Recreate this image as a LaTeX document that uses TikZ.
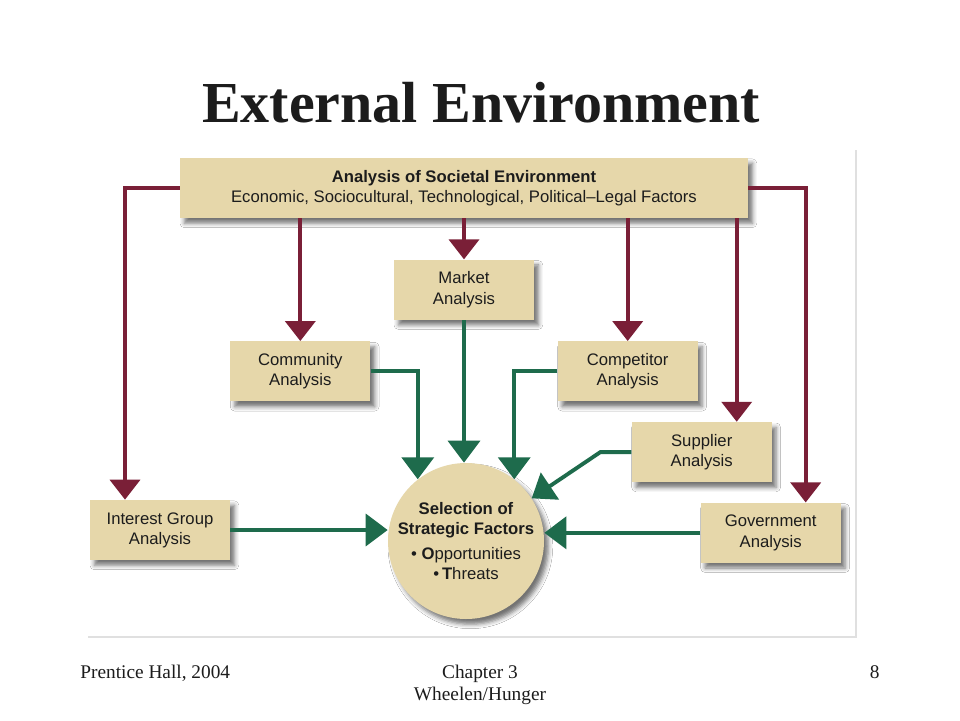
\documentclass[tikz,border=0pt]{standalone}
\usepackage{fontspec}
\setmainfont{Liberation Serif}
\setsansfont{Liberation Sans}
\usepackage{tikz}
\usetikzlibrary{positioning, arrows.meta, shadows.blur}
\definecolor{ink}{HTML}{1C1C1C}
\definecolor{boxtan}{HTML}{E6D7AA}
\definecolor{envred}{HTML}{7A1F37}
\definecolor{selgreen}{HTML}{1E6B4C}
\definecolor{framegray}{HTML}{E0E0E0}
\tikzset{
  bx/.style={fill=boxtan, text=ink, font=\sffamily\fontsize{9.5}{11.5}\selectfont,
    align=center, minimum width=28mm, minimum height=12mm, inner sep=2pt,
    blur shadow={shadow xshift=2.5pt, shadow yshift=-3pt, shadow blur radius=2.5pt, shadow opacity=55}},
  bxw/.style={bx, minimum width=113.6mm},
  hub/.style={bx, circle, minimum size=31.2mm, inner sep=-3pt},
  env/.style={-{Triangle[width=6mm, length=4mm]}, line width=2.2pt, color=envred},
  sel/.style={-{Triangle[width=6.4mm, length=4.4mm]}, line width=2.2pt, color=selgreen},
  ttl/.style={font=\fontsize{33}{38}\selectfont\bfseries, text=ink},
  foot/.style={font=\fontsize{11}{12.5}\selectfont, text=ink, align=center, inner sep=0pt},
}
\begin{document}
\begin{tikzpicture}[node distance=4.2mm and 4.6mm]
  \fill[white] (0,0) rectangle (19.2,-14.4);
  \useasboundingbox (0,0) rectangle (19.2,-14.4);
  \node[ttl, anchor=base] (title) at (9.62,-2.44) {External Environment};
  % figure frame
  \draw[framegray, line width=0.6pt] (1.76,-12.74) -- (17.12,-12.74) -- (17.12,-3.0);
  % societal environment on top
  \node[bxw] (soc) at (9.28,-3.76)
    {\textbf{Analysis of Societal Environment}\\Economic, Sociocultural, Technological, Political--Legal Factors};
  \node[bx, below=8.2mm of soc] (market) {Market\\Analysis};
  \node[bx, below left=of market] (community) {Community\\Analysis};
  \node[bx, below right=of market] (competitor) {Competitor\\Analysis};
  \node[bx, below=4mm of competitor, xshift=14.8mm] (supplier) {Supplier\\Analysis};
  \node[bx, below=4mm of supplier, xshift=13.8mm] (government) {Government\\Analysis};
  \node[bx] (interest) at (3.2,-10.6) {Interest Group\\Analysis};
  % strategic factors
  \node[hub] (sf) at (9.32,-10.82)
    {\textbf{Selection of}\\\textbf{Strategic Factors}\\[3pt]\textbullet\ \textbf{O}pportunities\\\textbullet\,\textbf{T}hreats};
  % red: societal environment feeds every analysis
  \draw[env] (soc.west) -| ([xshift=-7mm]interest.north);
  \draw[env] (community.north |- soc.south) -- (community.north);
  \draw[env] (soc.south) -- (market.north);
  \draw[env] (competitor.north |- soc.south) -- (competitor.north);
  \draw[env] ([xshift=7mm]supplier.north |- soc.south) -- ([xshift=7mm]supplier.north);
  \draw[env] (soc.east) -| ([xshift=7mm]government.north);
  % green: analyses into selection
  \draw[sel] (community.east) -| (sf.128);
  \draw[sel] (market.south) -- (market.south |- sf.north);
  \draw[sel] (competitor.west) -| (sf.52);
  \draw[sel] (supplier.west) -- ++(-6.2mm,0) -- (sf.33);
  \draw[sel] (interest.east) -- (interest.east -| sf.west);
  \draw[sel] (government.west) -- (government.west -| sf.east);
  % footer
  \node[foot, anchor=base west] (press) at (1.6,-13.56) {Prentice Hall, 2004};
  \node[foot, anchor=base] (chap) at (9.6,-13.56) {Chapter 3};
  \node[foot, anchor=base] (auth) at (9.6,-14.0) {Wheelen/Hunger};
  \node[foot, anchor=base east] (page) at (17.6,-13.56) {8};
\end{tikzpicture}
\end{document}
